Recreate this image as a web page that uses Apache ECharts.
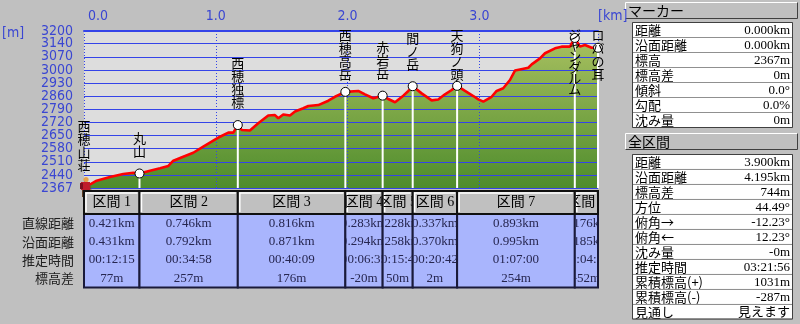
<!DOCTYPE html>
<html><head><meta charset="utf-8">
<script src="https://cdn.jsdelivr.net/npm/echarts@6.0.0/dist/echarts.min.js"></script>
<style>html,body{margin:0;padding:0;background:#c0c0c0;}#c{width:800px;height:324px;}</style>
</head><body><div id="c"></div>
<script>
// ---- data ----
const profileKm = [0, 0.096, 0.197, 0.298, 0.374, 0.421, 0.501, 0.577, 0.640, 0.678, 0.753, 0.829, 0.905, 0.981, 1.032, 1.095, 1.133, 1.167, 1.197, 1.259, 1.322, 1.398, 1.449, 1.474, 1.512, 1.563, 1.601, 1.664, 1.702, 1.778, 1.854, 1.904, 1.983, 2.081, 2.132, 2.195, 2.266, 2.309, 2.360, 2.423, 2.461, 2.494, 2.562, 2.638, 2.688, 2.739, 2.790, 2.831, 2.891, 2.954, 2.992, 3.030, 3.093, 3.131, 3.181, 3.232, 3.270, 3.308, 3.371, 3.397, 3.460, 3.498, 3.574, 3.624, 3.687, 3.724, 3.763, 3.801, 3.852, 3.900];
const profileElev = [2367, 2406, 2425, 2441, 2448, 2444, 2459, 2472, 2484, 2512, 2533, 2554, 2586, 2618, 2639, 2661, 2661, 2701, 2675, 2672, 2710, 2752, 2754, 2737, 2757, 2752, 2773, 2790, 2802, 2807, 2830, 2851, 2877, 2882, 2864, 2843, 2857, 2839, 2822, 2857, 2882, 2907, 2869, 2832, 2837, 2864, 2887, 2909, 2882, 2855, 2837, 2825, 2851, 2882, 2896, 2940, 2990, 2996, 3005, 3023, 3055, 3082, 3108, 3117, 3117, 3163, 3117, 3126, 3111, 3111];

const waypointNames = ['西穂山荘', '丸山', '西穂独標', '西穂高岳', '赤岩岳', '間ノ岳', '天狗ノ頭', 'ジャンダルム', 'ロバの耳'];
const waypointKm = [0, 0.421, 1.167, 1.983, 2.266, 2.494, 2.831, 3.724, 3.900];
const waypointElev = [2367, 2444, 2701, 2877, 2857, 2907, 2909, 3163, 3111];

const sectionNames = ['区間 1', '区間 2', '区間 3', '区間 4', '区間 5', '区間 6', '区間 7', '区間 8'];
const straightDist = ['0.421km', '0.746km', '0.816km', '0.283km', '0.228km', '0.337km', '0.893km', '0.176km'];
const surfaceDist = ['0.431km', '0.792km', '0.871km', '0.294km', '0.258km', '0.370km', '0.995km', '0.185km'];
const estTime = ['00:12:15', '00:34:58', '00:40:09', '00:06:35', '00:15:47', '00:20:42', '01:07:00', '00:04:30'];
const elevDiff = ['77m', '257m', '176m', '-20m', '50m', '2m', '254m', '-52m'];
const tableRowLabels = ['直線距離', '沿面距離', '推定時間', '標高差'];

const xTickLabels = ['0.0', '1.0', '2.0', '3.0', '[km]'];
const yTickLabels = ['2367', '2440', '2510', '2580', '2650', '2720', '2790', '2860', '2930', '3000', '3070', '3140', '3200'];

const markerLabels = ['距離', '沿面距離', '標高', '標高差', '傾斜', '勾配', '沈み量'];
const markerValues = ['0.000km', '0.000km', '2367m', '0m', '0.0°', '0.0%', '0m'];
const totalLabels = ['距離', '沿面距離', '標高差', '方位', '俯角→', '俯角←', '沈み量', '推定時間', '累積標高(+)', '累積標高(-)', '見通し'];
const totalValues = ['3.900km', '4.195km', '744m', '44.49°', '-12.23°', '12.23°', '-0m', '03:21:56', '1031m', '-287m', '見えます'];

// ---- layout / style ----
const yMin = 2367, yMax = 3200;
const yStep = (yMax - yMin) / 12;      // label spacing of the original
const yInterval = yMin / 34;           // ~69.6, min is an exact multiple
const xMin = 0, xMax = 3.9;
const axisBlue = '#3a46d2';
const gridBlue = '#3444e8';
const axisFont = '"Liberation Sans Narrow", "DejaVu Sans Condensed", "Liberation Sans", sans-serif';
const jpFont = '"Noto Sans CJK JP", sans-serif';
const numFont = '"Liberation Serif", "Noto Sans CJK JP", serif';

function txt(x, y, text, font, fill, align, valign, extra) {
  return Object.assign({
    type: 'text', x: x, y: y, silent: true,
    style: { text: text, font: font, fill: fill, align: align, textAlign: align, verticalAlign: valign, textVerticalAlign: valign }
  }, extra || {});
}
function bevelBar(x, y, w, h, text) {
  return [
    { type: 'rect', shape: { x: x, y: y, width: w, height: h }, style: { fill: '#c0c0c0' }, silent: true },
    { type: 'polyline', shape: { points: [[x + 0.5, y + h - 0.5], [x + 0.5, y + 0.5], [x + w - 0.5, y + 0.5]] }, style: { stroke: '#ffffff', lineWidth: 1, fill: null }, silent: true },
    { type: 'polyline', shape: { points: [[x + 0.5, y + h - 0.5], [x + w - 0.5, y + h - 0.5], [x + w - 0.5, y + 0.5]] }, style: { stroke: '#404040', lineWidth: 1, fill: null }, silent: true },
    txt(x + 3, y + h / 2 + 0.5, text, '14px ' + jpFont, '#000', 'left', 'middle')
  ];
}
function infoTable(x, y, w, rowH, labels, values) {
  const els = [];
  labels.forEach(function (lab, i) {
    const ry = Math.round(y + i * rowH) + 0.5;
    els.push({ type: 'rect', shape: { x: x + 0.5, y: ry, width: w, height: rowH }, style: { fill: '#ffffff', stroke: '#909090', lineWidth: 1 }, silent: true });
    els.push(txt(x + 3, ry + rowH / 2 + 0.5, lab, '13px ' + jpFont, '#000', 'left', 'middle'));
    els.push(txt(x + w - 2, ry + rowH / 2 + 0.5, values[i], '13px ' + numFont, '#000', 'right', 'middle'));
  });
  els.push({ type: 'rect', shape: { x: x + 0.5, y: y + 0.5, width: w, height: rowH * labels.length }, style: { fill: null, stroke: '#404040', lineWidth: 1 }, silent: true });
  return els;
}
function yLabel(v) { return yTickLabels[Math.round((v - yMin) / yStep)]; }

const chart = echarts.init(document.getElementById('c'), null, { renderer: 'canvas' });
const profileData = profileKm.map(function (k, i) { return [k, profileElev[i]]; });

const graphics = [];
graphics.push(txt(2, 33, '[m]', '14px ' + axisFont, axisBlue, 'left', 'middle'));
const rowCenters = [223.3, 241.7, 260, 278.3];
tableRowLabels.forEach(function (l, i) { graphics.push(txt(74, rowCenters[i], l, '13px ' + jpFont, '#202020', 'right', 'middle')); });
bevelBar(625, 2, 173, 17, 'マーカー').forEach(function (e) { graphics.push(e); });
infoTable(632, 22, 160, 15, markerLabels, markerValues).forEach(function (e) { graphics.push(e); });
bevelBar(625, 133, 173, 17, '全区間').forEach(function (e) { graphics.push(e); });
infoTable(632, 154, 160, 14.95, totalLabels, totalValues).forEach(function (e) { graphics.push(e); });

const yLabelStyle = { color: axisBlue, fontSize: 14, lineHeight: 10, fontFamily: axisFont, margin: 11, hideOverlap: false };

const option = {
  backgroundColor: '#c0c0c0',
  animation: false,
  tooltip: { show: false },
  grid: { left: 84, right: 202, top: 31, bottom: 136, show: true, backgroundColor: '#dddddd', borderWidth: 0, containLabel: false, outerBoundsMode: 'none' },
  xAxis: {
    type: 'value', position: 'top', min: xMin, max: xMax, interval: 1, z: 2,
    axisLine: { show: true, lineStyle: { color: gridBlue, width: 2 } },
    axisTick: { show: false },
    axisLabel: {
      show: true, showMinLabel: true, showMaxLabel: true, hideOverlap: false, margin: 8, color: axisBlue, fontSize: 14, fontFamily: axisFont,
      alignMinLabel: 'left', alignMaxLabel: 'left',
      formatter: function (v, i) { return i === 0 ? '{p|' + xTickLabels[0] + '}' : xTickLabels[i]; },
      rich: { p: { padding: [0, 0, 0, 4], color: axisBlue, fontSize: 14, fontFamily: axisFont } }
    },
    splitLine: { show: true, lineStyle: { color: gridBlue, type: [1, 2], width: 1 } }
  },
  yAxis: [
    {
      // inner tick labels and horizontal grid lines
      type: 'value', min: yMin, max: yMax, interval: yInterval, z: 2,
      axisLine: { show: false }, axisTick: { show: false },
      axisLabel: Object.assign({ show: true, showMinLabel: false, showMaxLabel: false, formatter: yLabel }, yLabelStyle),
      splitLine: { show: true, lineStyle: { color: gridBlue, width: 1 } }
    },
    {
      // end labels (min / max) on the same scale
      type: 'value', position: 'left', min: yMin, max: yMax, interval: yInterval, z: 2,
      axisLine: { show: false }, axisTick: { show: false }, splitLine: { show: false },
      axisLabel: Object.assign({ show: true, showMinLabel: true, showMaxLabel: true, formatter: function (v) { return (Math.abs(v - yMin) < 1e-6 || Math.abs(v - yMax) < 1e-6) ? yLabel(v) : ''; } }, yLabelStyle)
    }
  ],
  series: [
    {
      type: 'line', name: 'fill', data: profileData, showSymbol: false, symbol: 'none', silent: true, z: 1,
      lineStyle: { width: 0 },
      areaStyle: { origin: 'start', opacity: 1, color: new echarts.graphic.LinearGradient(0, 0, 0, 1, [{ offset: 0, color: '#a8c060' }, { offset: 1, color: '#4e8c2c' }]) }
    },
    {
      type: 'line', name: 'profile', data: profileData, showSymbol: false, symbol: 'none', silent: true, z: 3,
      lineStyle: { color: '#ff0000', width: 2.6 }
    },
    {
      type: 'custom', name: 'waypoints', z: 4, silent: true, clip: false,
      data: waypointKm.map(function (k, i) { return [k, waypointElev[i], i]; }),
      encode: { x: 0, y: 1 },
      renderItem: function (params, api) {
        const i = api.value(2);
        const p = api.coord([api.value(0), api.value(1)]);
        const cs = params.coordSys;
        const bottom = cs.y + cs.height;
        const chars = waypointNames[i].split('');
        const lh = /[\u30A0-\u30FF]{3,}/.test(waypointNames[i]) ? 11 : 13;
        const h = chars.length * lh;
        const top = Math.max(cs.y - 2, p[1] - 16 - h);
        const children = [];
        if (i > 0) {
          children.push({ type: 'line', shape: { x1: p[0], y1: p[1], x2: p[0], y2: bottom }, style: { stroke: '#ffffff', lineWidth: 2 } });
          children.push({ type: 'circle', shape: { cx: p[0], cy: p[1], r: 4.5 }, style: { fill: '#ffffff', stroke: '#000000', lineWidth: 1 } });
        } else {
          const hx = p[0] + 2, hy = p[1];
          children.push({ type: 'rect', shape: { x: hx - 4, y: hy + 1, width: 2.5, height: 8 }, style: { fill: '#5a3a20' } });
          children.push({ type: 'rect', shape: { x: hx + 0.5, y: hy + 1, width: 2.5, height: 8 }, style: { fill: '#5a3a20' } });
          children.push({ type: 'rect', shape: { x: hx - 5, y: hy - 6, width: 9, height: 8 }, style: { fill: '#c01c2c' } });
          children.push({ type: 'rect', shape: { x: hx - 6, y: hy - 5, width: 3, height: 6 }, style: { fill: '#7a1020' } });
          children.push({ type: 'circle', shape: { cx: hx, cy: hy - 8.5, r: 2.6 }, style: { fill: '#e8a048' } });
          children.push({ type: 'line', shape: { x1: hx + 4, y1: hy - 3, x2: hx + 6, y2: hy + 8 }, style: { stroke: '#7a5030', lineWidth: 1 } });
        }
        children.push({ type: 'text', x: p[0], y: top, style: { text: chars.join('\n'), font: '13px ' + jpFont, fill: '#000', align: 'center', textAlign: 'center', verticalAlign: 'top', textVerticalAlign: 'top', lineHeight: lh } });
        return { type: 'group', children: children };
      }
    },
    {
      type: 'custom', name: 'sections', z: 5, silent: true, clip: false,
      data: sectionNames.map(function (n, i) { return [waypointKm[i], waypointKm[i + 1], i]; }),
      encode: { x: [0, 1] },
      renderItem: function (params, api) {
        const i = api.value(2);
        const cs = params.coordSys;
        const base = cs.y + cs.height;
        const x0 = api.coord([api.value(0), yMin])[0];
        const x1 = api.coord([api.value(1), yMin])[0];
        const w = x1 - x0;
        const hTop = base + 3, hBot = base + 26, dBot = base + 99.5;
        const rows = [straightDist[i], surfaceDist[i], estTime[i], elevDiff[i]];
        const offs = [35.3, 53.7, 72, 90.3];
        const texts = [{ type: 'text', x: (x0 + x1) / 2, y: hTop + 11.8, style: { text: sectionNames[i], font: '14px ' + numFont, fill: '#000', align: 'center', textAlign: 'center', verticalAlign: 'middle', textVerticalAlign: 'middle' } }];
        rows.forEach(function (r, k) {
          texts.push({ type: 'text', x: (x0 + x1) / 2, y: base + offs[k], style: { text: r, font: '13px ' + numFont, fill: '#262650', align: 'center', textAlign: 'center', verticalAlign: 'middle', textVerticalAlign: 'middle' } });
        });
        return {
          type: 'group', children: [
            { type: 'rect', shape: { x: x0, y: hBot, width: w, height: dBot - hBot }, style: { fill: '#a9b5fd', stroke: '#1a1a3a', lineWidth: 2 } },
            { type: 'rect', shape: { x: x0, y: hTop, width: w, height: hBot - hTop }, style: { fill: '#c0c0c0', stroke: '#101010', lineWidth: 2 } },
            { type: 'polyline', shape: { points: [[x0 + 2, hBot - 2], [x0 + 2, hTop + 2], [x1 - 2, hTop + 2]] }, style: { stroke: '#ffffff', lineWidth: 1.5, fill: null } },
            { type: 'group', clipPath: { type: 'rect', shape: { x: x0 + 1, y: hTop, width: w - 2, height: dBot - hTop } }, children: texts }
          ]
        };
      }
    }
  ],
  graphic: { elements: graphics }
};
chart.setOption(option);
</script></body></html>
